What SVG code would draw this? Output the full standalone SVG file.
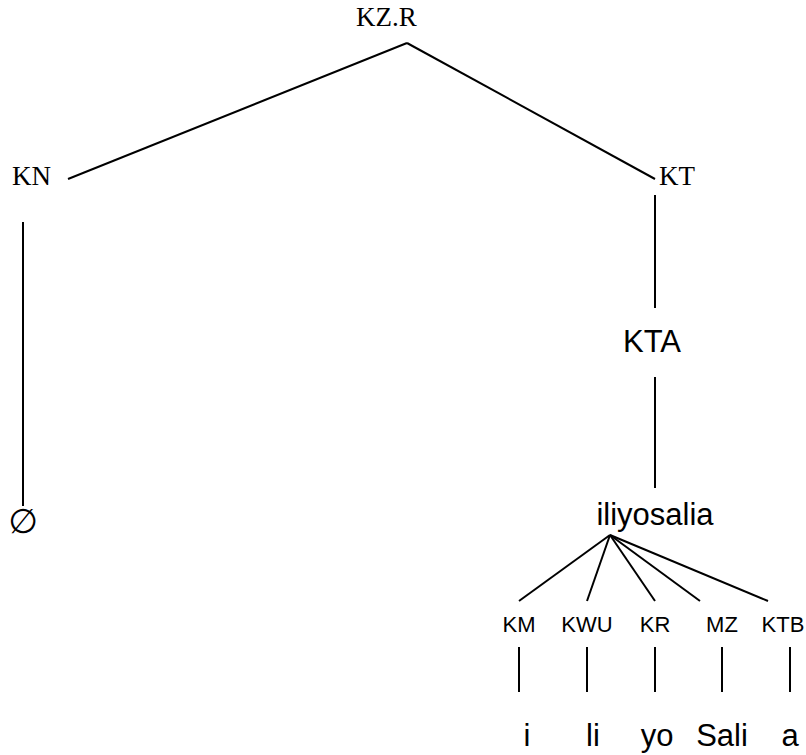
<svg xmlns="http://www.w3.org/2000/svg" width="806" height="755" viewBox="0 0 806 755">
  <style>
    .serif { font-family: "Liberation Serif", "Times New Roman", serif; font-size: 27px; fill: #000; }
    .sans { font-family: "Liberation Sans", Arial, sans-serif; font-size: 31px; fill: #000; text-anchor: middle; }
    .small { font-family: "Liberation Sans", Arial, sans-serif; font-size: 22px; fill: #000; text-anchor: middle; }
    .edge { stroke: #000; stroke-width: 2; fill: none; }
  </style>
  <rect width="806" height="755" fill="#fff"/>

  <!-- tree branches -->
  <g id="connectors">
    <line class="edge" x1="407" y1="43" x2="68" y2="179"/>
    <line class="edge" x1="407" y1="43" x2="655" y2="179"/>
    <line class="edge" x1="23" y1="222" x2="23" y2="506"/>
    <line class="edge" x1="655" y1="195" x2="655" y2="308"/>
    <line class="edge" x1="655" y1="377" x2="655" y2="488"/>
    <line class="edge" x1="610" y1="535" x2="519" y2="601"/>
    <line class="edge" x1="610" y1="535" x2="587" y2="601"/>
    <line class="edge" x1="610" y1="535" x2="655" y2="601"/>
    <line class="edge" x1="610" y1="535" x2="700" y2="601"/>
    <line class="edge" x1="610" y1="535" x2="768" y2="601"/>
    <line class="edge" x1="519" y1="647" x2="519" y2="692"/>
    <line class="edge" x1="587" y1="647" x2="587" y2="692"/>
    <line class="edge" x1="655" y1="647" x2="655" y2="692"/>
    <line class="edge" x1="722" y1="647" x2="722" y2="692"/>
    <line class="edge" x1="790" y1="647" x2="790" y2="692"/>
  </g>

  <g id="kzr"><text class="serif" x="356" y="26">KZ.R</text></g>
  <g id="kn"><text class="serif" x="12" y="185">KN</text></g>
  <g id="kt"><text class="serif" x="659" y="185">KT</text></g>
  <g id="empty"><text x="23" y="533" text-anchor="middle" font-family="DejaVu Sans, sans-serif" font-size="34" fill="#000">∅</text></g>
  <g id="kta"><text class="sans" x="652" y="352">KTA</text></g>
  <g id="iliyosalia"><text class="sans" x="655" y="525">iliyosalia</text></g>

  <g id="km"><text class="small" x="519" y="632">KM</text></g>
  <g id="kwu"><text class="small" x="587" y="632">KWU</text></g>
  <g id="kr"><text class="small" x="655" y="632">KR</text></g>
  <g id="mz"><text class="small" x="722" y="632">MZ</text></g>
  <g id="ktb"><text class="small" x="783" y="632">KTB</text></g>

  <g id="w-i"><text class="sans" x="527" y="746">i</text></g>
  <g id="w-li"><text class="sans" x="593" y="746">li</text></g>
  <g id="w-yo"><text class="sans" x="657" y="746">yo</text></g>
  <g id="w-sali"><text class="sans" x="722" y="746">Sali</text></g>
  <g id="w-a"><text class="sans" x="790" y="746">a</text></g>
</svg>
